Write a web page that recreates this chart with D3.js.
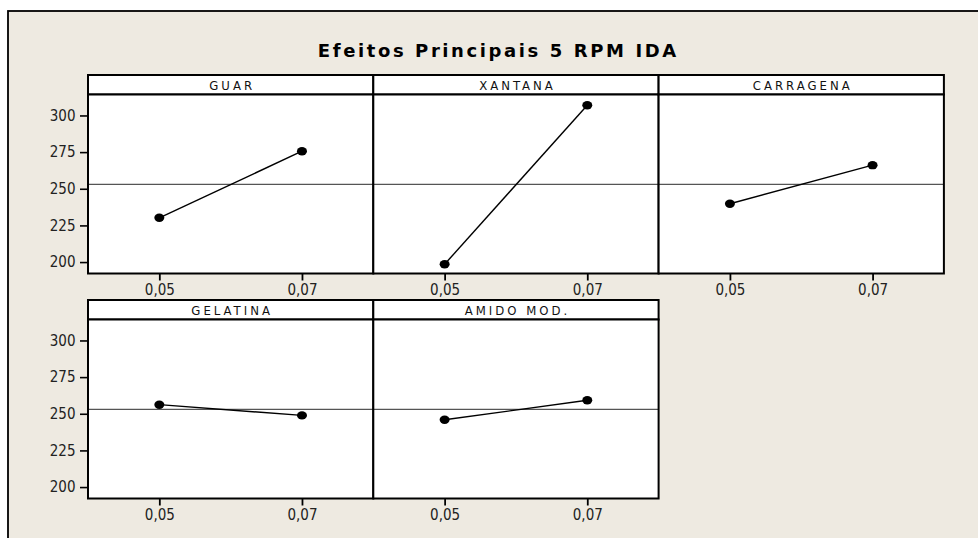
<!DOCTYPE html>
<html>
<head>
<meta charset="utf-8">
<script src="https://cdn.jsdelivr.net/npm/d3@7/dist/d3.min.js"></script>
<style>
  html, body { margin: 0; padding: 0; background: #ffffff; }
  svg { display: block; }
</style>
</head>
<body>
<script>
// Main effects plot: mean response at each factor level
const factors = ["GUAR", "XANTANA", "CARRAGENA", "GELATINA", "AMIDO MOD."];
const levels = [0.05, 0.07];
const meanLow = [230.2, 198.5, 239.8, 256.2, 245.9];
const meanHigh = [275.6, 307.0, 266.1, 248.9, 259.2];
const grandMean = 253.0;
const yTicks = [200, 225, 250, 275, 300];
const title = "Efeitos Principais 5 RPM IDA";

const W = 978, H = 538;
const bg = "#eeeae1";

const svg = d3.select("body").append("svg")
  .attr("width", W).attr("height", H);

// outer frame
svg.append("rect").attr("x", 0).attr("y", 0).attr("width", W).attr("height", H).attr("fill", "#ffffff");
svg.append("rect").attr("x", 8).attr("y", 11).attr("width", W + 20).attr("height", H + 20)
  .attr("fill", bg).attr("stroke", "#000").attr("stroke-width", 1.8);

svg.append("text")
  .attr("x", 497 + 1.3).attr("y", 57)
  .attr("text-anchor", "middle")
  .style("font-family", "'DejaVu Sans', Verdana, sans-serif")
  .style("font-weight", "bold")
  .style("font-size", "18px")
  .style("letter-spacing", "2.6px")
  .attr("fill", "#000")
  .text(title);

const left = 88, panelW = 285.3, stripH = 19.5, plotH = 179;
const rowTops = [75, 300];
const perRow = 3;

const locale = d3.formatLocale({ decimal: ",", thousands: ".", grouping: [3], currency: ["", ""] });
const fmtX = locale.format(".2f");

const x = d3.scaleLinear().domain([0.04, 0.08]).range([0, panelW]);
const y = d3.scaleLinear().domain([192.2, 314.3]).range([plotH, 0]);

const fontTick = "'DejaVu Sans Condensed', 'Open Sans', sans-serif";

factors.forEach((name, i) => {
  const row = Math.floor(i / perRow), col = i % perRow;
  const px = left + col * panelW;
  const py = rowTops[row] + stripH;
  const g = svg.append("g").attr("transform", `translate(${px},${py})`);

  // strip
  g.append("rect").attr("x", 0).attr("y", -stripH).attr("width", panelW).attr("height", stripH)
    .attr("fill", "#fff").attr("stroke", "#000").attr("stroke-width", 2);
  g.append("text")
    .attr("x", panelW / 2 + 1.5).attr("y", -4.5)
    .attr("text-anchor", "middle")
    .style("font-family", fontTick)
    .style("font-size", "13px")
    .style("letter-spacing", "3px")
    .attr("fill", "#111")
    .text(name);

  // plot area
  g.append("rect").attr("x", 0).attr("y", 0).attr("width", panelW).attr("height", plotH)
    .attr("fill", "#fff");

  // grand mean reference line
  g.append("line")
    .attr("x1", 0).attr("x2", panelW)
    .attr("y1", y(grandMean)).attr("y2", y(grandMean))
    .attr("stroke", "#555").attr("stroke-width", 1.3);

  const pts = [[levels[0], meanLow[i]], [levels[1], meanHigh[i]]];
  g.append("path")
    .attr("d", d3.line().x(d => x(d[0])).y(d => y(d[1]))(pts))
    .attr("fill", "none").attr("stroke", "#000").attr("stroke-width", 1.4);
  g.selectAll("ellipse.pt").data(pts).join("ellipse")
    .attr("class", "pt")
    .attr("cx", d => x(d[0])).attr("cy", d => y(d[1]))
    .attr("rx", 5).attr("ry", 4.2).attr("fill", "#000");

  g.append("rect").attr("x", 0).attr("y", 0).attr("width", panelW).attr("height", plotH)
    .attr("fill", "none").attr("stroke", "#000").attr("stroke-width", 2);

  // x axis
  const xa = g.append("g").attr("transform", `translate(0,${plotH})`)
    .call(d3.axisBottom(x).tickValues(levels).tickFormat(fmtX).tickSize(7).tickPadding(4));
  xa.select(".domain").remove();
  xa.selectAll("line").attr("stroke", "#000").attr("stroke-width", 1.8);
  xa.selectAll("text").style("font-family", fontTick).style("font-size", "15px").attr("fill", "#222");

  // y axis on the first panel of each row
  if (col === 0) {
    const ya = g.append("g")
      .call(d3.axisLeft(y).tickValues(yTicks).tickSize(8).tickPadding(4.5));
    ya.select(".domain").remove();
    ya.selectAll("line").attr("stroke", "#000").attr("stroke-width", 1.6);
    ya.selectAll("text").style("font-family", fontTick).style("font-size", "15px").attr("fill", "#222");
  }
});
</script>
</body>
</html>
